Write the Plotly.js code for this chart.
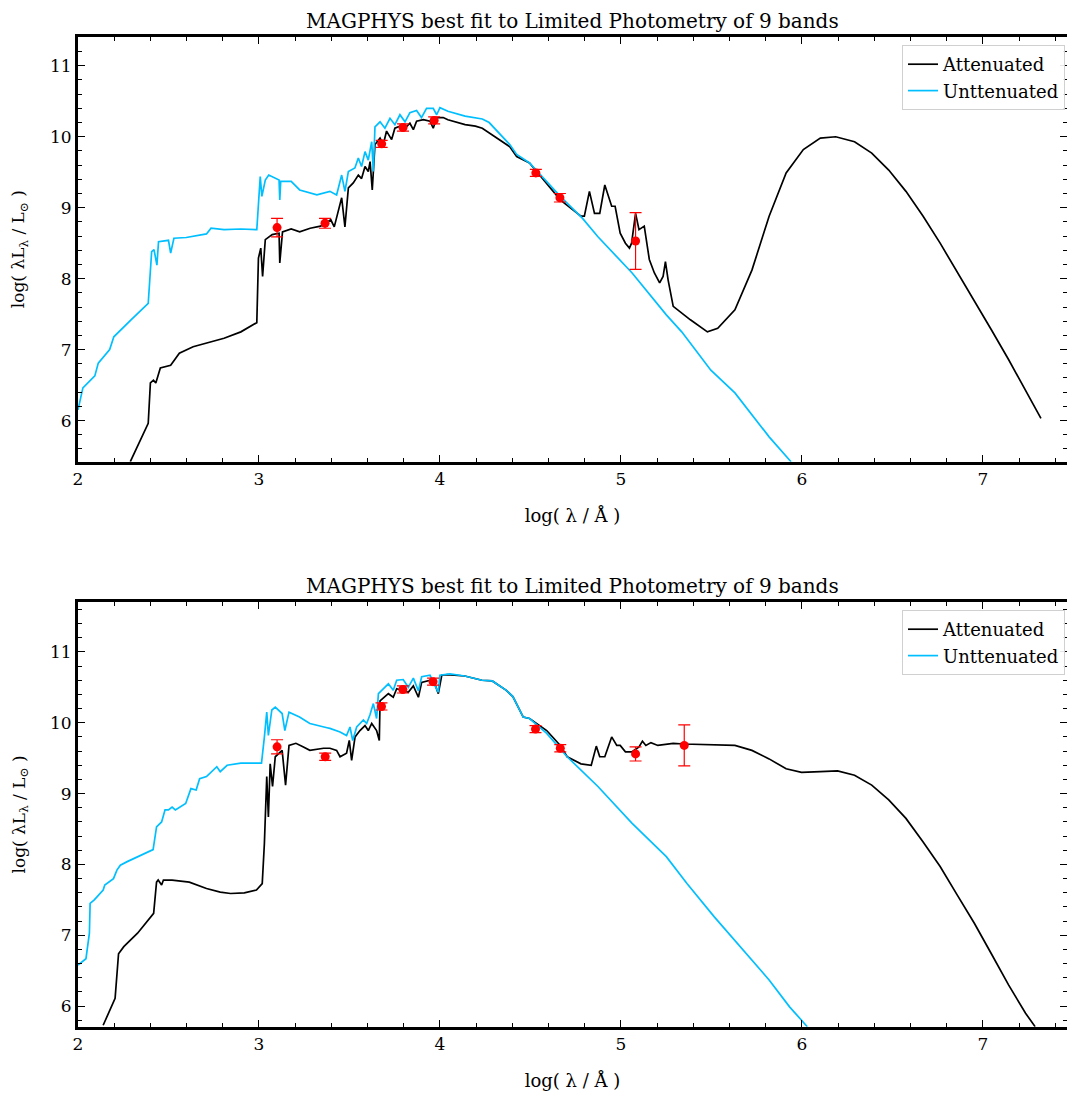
<!DOCTYPE html>
<html><head><meta charset="utf-8">
<script src="https://cdn.plot.ly/plotly-3.0.1.min.js"></script>
<style>html,body{margin:0;padding:0;background:#fff}</style>
</head><body>
<div id="chart" style="width:1067px;height:1093px"></div>
<script>
const chartTitle = "MAGPHYS best fit to Limited Photometry of 9 bands";
const seriesNames = ["Attenuated", "Unttenuated"];

// ---- Top panel ----
const topUnattX = [2.0,2.027,2.093,2.112,2.175,2.198,2.293,2.388,2.407,2.42,2.436,2.445,2.50,2.512,2.53,2.598,2.71,2.735,2.807,2.90,2.988,2.997,3.007,3.016,3.035,3.054,3.07,3.111,3.115,3.12,3.178,3.225,3.32,3.392,3.429,3.457,3.475,3.494,3.53,3.549,3.567,3.586,3.604,3.623,3.632,3.641,3.669,3.696,3.724,3.751,3.779,3.807,3.834,3.871,3.898,3.926,3.963,3.982,4.0,4.044,4.139,4.234,4.272,4.386,4.424,4.495,4.665,4.788,4.873,5.062,5.251,5.336,5.497,5.63,5.819,5.94];
const topUnattY = [6.15,6.46,6.63,6.81,7.0,7.18,7.42,7.65,8.38,8.41,8.19,8.52,8.54,8.36,8.57,8.58,8.63,8.71,8.69,8.70,8.69,9.11,9.44,9.16,9.39,9.46,9.44,9.39,9.11,9.37,9.37,9.25,9.18,9.23,9.18,9.46,9.23,9.51,9.56,9.70,9.58,9.79,9.67,9.93,9.51,10.14,10.21,10.12,10.26,10.17,10.31,10.21,10.34,10.37,10.27,10.40,10.40,10.31,10.41,10.36,10.29,10.25,10.20,9.89,9.75,9.63,9.16,8.85,8.59,8.08,7.49,7.25,6.71,6.39,5.77,5.42];

const topAttX = [2.289,2.388,2.40,2.417,2.43,2.455,2.512,2.56,2.636,2.731,2.807,2.90,2.988,2.997,3.01,3.02,3.035,3.073,3.111,3.115,3.13,3.178,3.225,3.283,3.34,3.397,3.416,3.435,3.457,3.475,3.494,3.521,3.549,3.567,3.586,3.604,3.614,3.626,3.641,3.669,3.687,3.705,3.733,3.751,3.779,3.807,3.834,3.853,3.871,3.908,3.945,3.963,3.982,4.018,4.044,4.139,4.196,4.234,4.386,4.424,4.495,4.665,4.779,4.798,4.826,4.854,4.883,4.911,4.949,4.968,4.996,5.025,5.047,5.059,5.081,5.10,5.129,5.157,5.185,5.214,5.233,5.246,5.261,5.289,5.384,5.478,5.535,5.63,5.724,5.819,5.913,6.008,6.102,6.187,6.291,6.386,6.48,6.575,6.67,6.764,6.858,6.953,7.047,7.142,7.236,7.321];
const topAttY = [5.42,5.96,6.53,6.57,6.53,6.74,6.78,6.95,7.04,7.11,7.16,7.25,7.38,8.29,8.43,8.03,8.55,8.62,8.64,8.22,8.66,8.70,8.66,8.71,8.74,8.83,8.73,8.92,9.14,8.73,9.28,9.35,9.46,9.41,9.58,9.51,9.65,9.25,9.89,9.98,9.89,10.08,9.96,10.12,10.15,10.12,10.19,10.10,10.22,10.24,10.22,10.12,10.27,10.27,10.24,10.17,10.15,10.12,9.86,9.72,9.63,9.11,8.88,8.88,9.23,8.92,8.92,9.32,9.02,9.02,8.64,8.50,8.43,8.50,8.92,8.69,8.74,8.27,8.08,7.94,8.03,8.24,7.98,7.61,7.42,7.25,7.30,7.56,8.12,8.88,9.49,9.82,9.98,10.0,9.93,9.77,9.53,9.23,8.88,8.50,8.10,7.70,7.28,6.86,6.43,6.03];

const topPhotX = [3.10,3.365,3.678,3.796,3.968,4.53,4.663,5.081];
const topPhotY = [8.72,8.78,9.90,10.13,10.23,9.49,9.14,8.53];
const topPhotErr = [0.13,0.07,0.05,0.05,0.05,0.05,0.06,0.40];

// ---- Bottom panel ----
const botUnattX = [2.0,2.044,2.063,2.067,2.09,2.12,2.139,2.148,2.196,2.215,2.234,2.272,2.329,2.415,2.434,2.462,2.481,2.50,2.52,2.538,2.595,2.624,2.653,2.672,2.71,2.767,2.786,2.824,2.90,3.014,3.03,3.043,3.052,3.071,3.09,3.128,3.143,3.166,3.224,3.281,3.376,3.392,3.448,3.484,3.503,3.518,3.54,3.577,3.595,3.613,3.632,3.65,3.66,3.687,3.715,3.742,3.761,3.797,3.825,3.853,3.881,3.899,3.945,3.991,4.0,4.055,4.137,4.232,4.289,4.365,4.403,4.46,4.495,4.59,4.703,4.873,5.062,5.251,5.365,5.516,5.667,5.819,5.932,6.03];
const botUnattY = [6.58,6.67,7.03,7.45,7.50,7.59,7.64,7.71,7.80,7.92,7.99,8.04,8.11,8.21,8.53,8.60,8.77,8.77,8.81,8.77,8.86,9.07,9.05,9.21,9.24,9.38,9.31,9.40,9.43,9.43,9.80,10.15,9.82,10.18,10.22,10.13,9.89,10.15,10.08,9.99,9.93,9.92,9.87,9.82,9.94,9.75,9.94,10.04,9.99,10.11,10.27,10.06,10.41,10.48,10.55,10.46,10.60,10.61,10.50,10.63,10.45,10.65,10.67,10.43,10.67,10.69,10.66,10.60,10.59,10.46,10.37,10.08,10.06,9.85,9.52,9.10,8.58,8.11,7.73,7.26,6.81,6.37,5.99,5.71];

const botAttX = [2.139,2.177,2.205,2.224,2.253,2.329,2.405,2.418,2.434,2.443,2.462,2.472,2.52,2.615,2.71,2.786,2.843,2.919,2.986,3.018,3.03,3.043,3.052,3.062,3.075,3.09,3.128,3.147,3.166,3.204,3.243,3.281,3.357,3.392,3.429,3.448,3.484,3.499,3.512,3.531,3.558,3.586,3.604,3.623,3.65,3.665,3.669,3.715,3.742,3.761,3.825,3.853,3.881,3.899,3.963,3.991,4.01,4.042,4.137,4.232,4.289,4.365,4.403,4.46,4.495,4.59,4.665,4.703,4.779,4.836,4.864,4.883,4.911,4.949,4.977,4.996,5.025,5.062,5.10,5.119,5.138,5.166,5.204,5.289,5.346,5.63,5.724,5.819,5.913,5.998,6.102,6.197,6.291,6.386,6.48,6.575,6.669,6.764,6.858,6.953,7.047,7.142,7.236,7.289];
const botAttY = [5.73,5.94,6.11,6.74,6.84,7.03,7.26,7.31,7.75,7.78,7.71,7.78,7.78,7.75,7.66,7.61,7.59,7.60,7.64,7.73,8.30,9.24,8.67,9.42,9.10,9.52,9.61,9.12,9.68,9.71,9.66,9.61,9.64,9.64,9.61,9.52,9.57,9.75,9.47,9.80,9.89,9.96,9.89,9.99,9.89,9.75,10.31,10.41,10.36,10.48,10.43,10.52,10.36,10.57,10.61,10.41,10.67,10.68,10.66,10.60,10.59,10.46,10.37,10.08,10.06,9.89,9.68,9.52,9.42,9.40,9.67,9.52,9.52,9.80,9.68,9.68,9.59,9.59,9.66,9.74,9.68,9.72,9.68,9.71,9.70,9.68,9.61,9.49,9.35,9.30,9.31,9.32,9.26,9.12,8.91,8.65,8.32,7.97,7.57,7.17,6.74,6.30,5.90,5.71];

const botPhotX = [3.10,3.366,3.677,3.795,3.962,4.528,4.665,5.081,5.35];
const botPhotY = [9.66,9.52,10.23,10.47,10.58,9.91,9.64,9.56,9.68];
const botPhotErr = [0.10,0.05,0.05,0.05,0.05,0.05,0.05,0.10,0.29];

const serif = "DejaVu Serif, serif";
const attColor = "#000000", unattColor = "#00BFFF", photColor = "#FF0000";

function lineTrace(x, y, name, color, xa, ya, legend, showlegend) {
  return {x:x, y:y, type:"scatter", mode:"lines", name:name, xaxis:xa, yaxis:ya,
          legend:legend, showlegend:showlegend, line:{color:color, width:1.7}};
}
function photTrace(x, y, err, xa, ya, legend) {
  return {x:x, y:y, type:"scatter", mode:"markers", xaxis:xa, yaxis:ya, legend:legend,
          showlegend:false, marker:{color:photColor, size:9},
          error_y:{type:"data", array:err, visible:true, color:photColor, thickness:1.2, width:6}};
}

const data = [
  lineTrace(topAttX, topAttY, seriesNames[0], attColor, "x", "y", "legend", true),
  lineTrace(topUnattX, topUnattY, seriesNames[1], unattColor, "x", "y", "legend", true),
  photTrace(topPhotX, topPhotY, topPhotErr, "x", "y", "legend"),
  lineTrace(botAttX, botAttY, seriesNames[0], attColor, "x2", "y2", "legend2", true),
  lineTrace(botUnattX, botUnattY, seriesNames[1], unattColor, "x2", "y2", "legend2", true),
  photTrace(botPhotX, botPhotY, botPhotErr, "x2", "y2", "legend2")
];

function xax(anchor) {
  return {anchor:anchor, domain:[0,1], range:[2,7.465], dtick:1, tick0:0,
    ticks:"inside", ticklen:7, tickwidth:1, tickcolor:"#000",
    minor:{dtick:0.2, ticks:"inside", ticklen:4, tickwidth:1, tickcolor:"#000"},
    showline:true, linewidth:3, linecolor:"#000", mirror:"allticks",
    showgrid:false, zeroline:false,
    tickfont:{family:serif, size:17, color:"#000"},
    title:{text:"log( λ / Å )", font:{family:serif, size:18, color:"#000"}, standoff:22}};
}
function yax(anchor, dom, rng) {
  return {anchor:anchor, domain:dom, range:rng, dtick:1, tick0:0,
    ticks:"inside", ticklen:7, tickwidth:1, tickcolor:"#000",
    minor:{dtick:0.2, ticks:"inside", ticklen:4, tickwidth:1, tickcolor:"#000"},
    showline:true, linewidth:3, linecolor:"#000", mirror:"allticks",
    showgrid:false, zeroline:false,
    tickfont:{family:serif, size:17, color:"#000"},
    title:{text:"log( λL<sub>λ</sub> / L<sub>⊙</sub> )", font:{family:serif, size:17, color:"#000"}, standoff:21}};
}

const topDom = [1-461.7/1093, 1-36.7/1093];
const botDom = [1-1026.7/1093, 1-602.3/1093];

const legendStyle = (ytop) => ({x:0.998, xanchor:"right", y:ytop, yanchor:"top",
  bgcolor:"rgba(255,255,255,0.9)", bordercolor:"#d0d0d0", borderwidth:1,
  font:{family:serif, size:18, color:"#000"}, tracegroupgap:0});

const layout = {
  width:1067, height:1093,
  margin:{l:78, r:0, t:0, b:0},
  paper_bgcolor:"#fff", plot_bgcolor:"#fff",
  showlegend:true,
  xaxis:xax("y"), yaxis:yax("x", topDom, [5.42,11.41]),
  xaxis2:xax("y2"), yaxis2:yax("x2", botDom, [5.71,11.70]),
  legend:legendStyle(1-45/1093),
  legend2:legendStyle(1-610/1093),
  annotations:[
    {text:chartTitle, xref:"paper", yref:"paper", x:0.5, y:topDom[1], xanchor:"center", yanchor:"bottom", yshift:2, showarrow:false, font:{family:serif, size:20, color:"#000"}},
    {text:chartTitle, xref:"paper", yref:"paper", x:0.5, y:botDom[1], xanchor:"center", yanchor:"bottom", yshift:2, showarrow:false, font:{family:serif, size:20, color:"#000"}}
  ]
};

Plotly.newPlot("chart", data, layout, {displayModeBar:false, staticPlot:true});
</script>
</body></html>
